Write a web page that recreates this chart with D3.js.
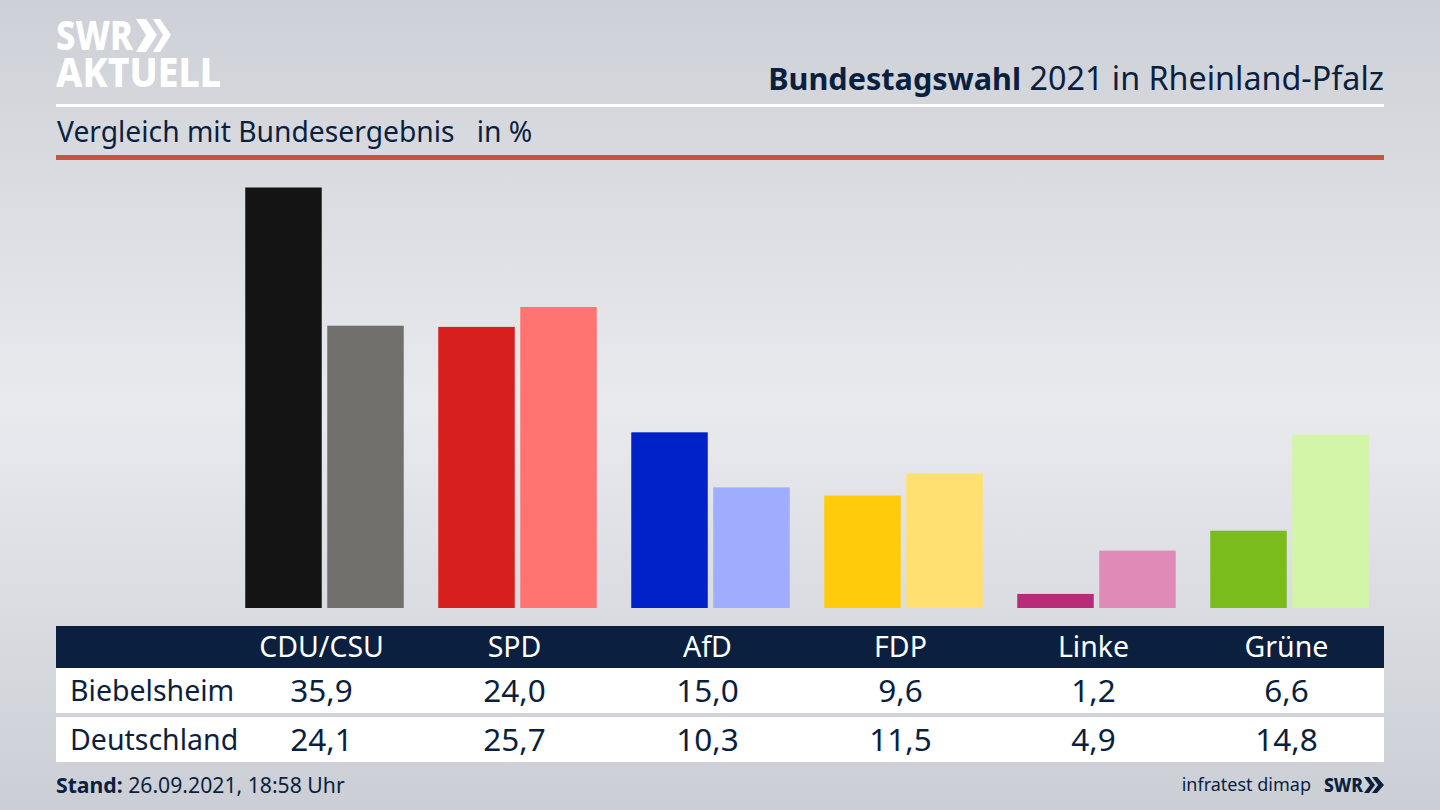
<!DOCTYPE html>
<html lang="de">
<head>
<meta charset="utf-8">
<script src="https://cdn.jsdelivr.net/npm/d3@7"></script>
<style>
  html, body { margin: 0; padding: 0; background: #d5d7dd; overflow: hidden; }
  svg { display: block; font-family: "Noto Sans", sans-serif; }
</style>
</head>
<body>
<div id="chart"></div>
<script>
// Daten
const parties = ['CDU/CSU', 'SPD', 'AfD', 'FDP', 'Linke', 'Grüne'];
const rowNames = ['Biebelsheim', 'Deutschland'];
const biebelsheim = [35.9, 24.0, 15.0, 9.6, 1.2, 6.6];
const deutschland = [24.1, 25.7, 10.3, 11.5, 4.9, 14.8];
const colorsLocal = ['#141414', '#d71f1d', '#0021c8', '#ffcb0a', '#b92a78', '#79bc1c'];
const colorsFederal = ['#72706d', '#ff7470', '#9fadff', '#ffe071', '#e08ab7', '#d2f5a8'];

const WIDTH = 1440, HEIGHT = 810;
const NAVY = '#0b1f3f';
const fmt = v => v.toFixed(1).replace('.', ',');

const svg = d3.select('#chart').append('svg')
  .attr('width', WIDTH)
  .attr('height', HEIGHT);

// Hintergrund
const defs = svg.append('defs');
const bg = defs.append('linearGradient')
  .attr('id', 'bg').attr('x1', 0).attr('y1', 0).attr('x2', 0).attr('y2', 1);
[[0, '#cdd0d6'], [0.5, '#e9eaee'], [1, '#cbced5']].forEach(s => {
  bg.append('stop').attr('offset', s[0]).attr('stop-color', s[1]);
});
svg.append('rect').attr('width', WIDTH).attr('height', HEIGHT).attr('fill', 'url(#bg)');

// Logo oben links
const logo = svg.append('g').attr('fill', '#fff').attr('font-weight', 800);
logo.append('text').attr('x', 56).attr('y', 50)
  .attr('font-size', 41).attr('textLength', 77).attr('lengthAdjust', 'spacingAndGlyphs')
  .text('SWR');
logo.append('path').attr('d', 'M136,19 h10 l11,16 l-11,17 h-10 l10,-17 z');
logo.append('path').attr('d', 'M153,19 h7 l11,16 l-11,17 h-7 l10,-17 z');
logo.append('text').attr('x', 56).attr('y', 87)
  .attr('font-size', 41).attr('textLength', 165).attr('lengthAdjust', 'spacingAndGlyphs')
  .text('AKTUELL');

// Titel
const title = svg.append('text')
  .attr('x', 1384).attr('y', 90)
  .attr('text-anchor', 'end')
  .attr('fill', NAVY);
title.append('tspan').attr('font-weight', 700).attr('font-size', 30.6).text('Bundestagswahl');
title.append('tspan').attr('font-size', 32.3).text(' 2021 in Rheinland-Pfalz');

svg.append('rect').attr('x', 56).attr('y', 104).attr('width', 1328).attr('height', 3).attr('fill', '#fff');

svg.append('text')
  .attr('x', 57).attr('y', 142)
  .attr('font-size', 28.25)
  .attr('fill', NAVY)
  .style('white-space', 'pre')
  .text('Vergleich mit Bundesergebnis   in %');

svg.append('rect').attr('x', 56).attr('y', 155).attr('width', 1328).attr('height', 5).attr('fill', '#c7533f');

// Skalen
const yScale = d3.scaleLinear().domain([0, 35.9]).range([608, 187.5]);
const xGroup = d3.scaleBand().domain(parties).range([228, 1386]).paddingInner(0).paddingOuter(0);
const BAR_W = 76.5, BAR_GAP = 5.5;
const barOffset = (xGroup.bandwidth() - (BAR_W * 2 + BAR_GAP)) / 2;

// Balken
const groups = svg.selectAll('.party')
  .data(parties)
  .join('g')
  .attr('class', 'party')
  .attr('transform', d => `translate(${xGroup(d) + barOffset},0)`);

groups.append('rect')
  .attr('x', 0)
  .attr('width', BAR_W)
  .attr('y', (d, i) => yScale(biebelsheim[i]))
  .attr('height', (d, i) => yScale(0) - yScale(biebelsheim[i]))
  .attr('fill', (d, i) => colorsLocal[i]);

groups.append('rect')
  .attr('x', BAR_W + BAR_GAP)
  .attr('width', BAR_W)
  .attr('y', (d, i) => yScale(deutschland[i]))
  .attr('height', (d, i) => yScale(0) - yScale(deutschland[i]))
  .attr('fill', (d, i) => colorsFederal[i]);

// Tabelle
const labelX = d => xGroup(d) + xGroup.bandwidth() / 2 - 3;

svg.append('rect').attr('x', 56).attr('y', 626).attr('width', 1328).attr('height', 42).attr('fill', NAVY);
svg.selectAll('.head')
  .data(parties)
  .join('text')
  .attr('class', 'head')
  .attr('x', labelX)
  .attr('y', 657)
  .attr('text-anchor', 'middle')
  .attr('font-size', 28.5)
  .attr('fill', '#fff')
  .text(d => d);

const rowTops = [668, 717];
const rowValues = [biebelsheim, deutschland];
rowNames.forEach((name, r) => {
  svg.append('rect').attr('x', 56).attr('y', rowTops[r]).attr('width', 1328).attr('height', 45).attr('fill', '#fff');
  svg.append('text')
    .attr('x', 70).attr('y', rowTops[r] + 33)
    .attr('font-size', 28.5)
    .attr('fill', NAVY)
    .text(name);
  svg.selectAll('.val' + r)
    .data(parties)
    .join('text')
    .attr('class', 'val' + r)
    .attr('x', labelX)
    .attr('y', rowTops[r] + 34)
    .attr('text-anchor', 'middle')
    .attr('font-size', 31.5)
    .attr('fill', NAVY)
    .text((d, i) => fmt(rowValues[r][i]));
});

// Fußzeile
const stand = svg.append('text')
  .attr('x', 56).attr('y', 793)
  .attr('fill', NAVY);
stand.append('tspan').attr('font-weight', 700).attr('font-size', 21.2).text('Stand:');
stand.append('tspan').attr('font-size', 21.2).text(' 26.09.2021, 18:58 Uhr');

svg.append('text')
  .attr('x', 1311).attr('y', 791)
  .attr('text-anchor', 'end')
  .attr('font-size', 18)
  .attr('fill', NAVY)
  .text('infratest dimap');

svg.append('text')
  .attr('x', 1324).attr('y', 792)
  .attr('font-size', 20)
  .attr('font-weight', 800)
  .attr('fill', NAVY)
  .attr('textLength', 39).attr('lengthAdjust', 'spacingAndGlyphs')
  .text('SWR');
svg.append('path').attr('fill', NAVY).attr('d', 'M1364,777 h5 l6,8 l-6,8 h-5 l6,-8 z');
svg.append('path').attr('fill', NAVY).attr('d', 'M1372,777 h5 l7,8 l-7,8 h-5 l6,-8 z');
</script>
</body>
</html>
